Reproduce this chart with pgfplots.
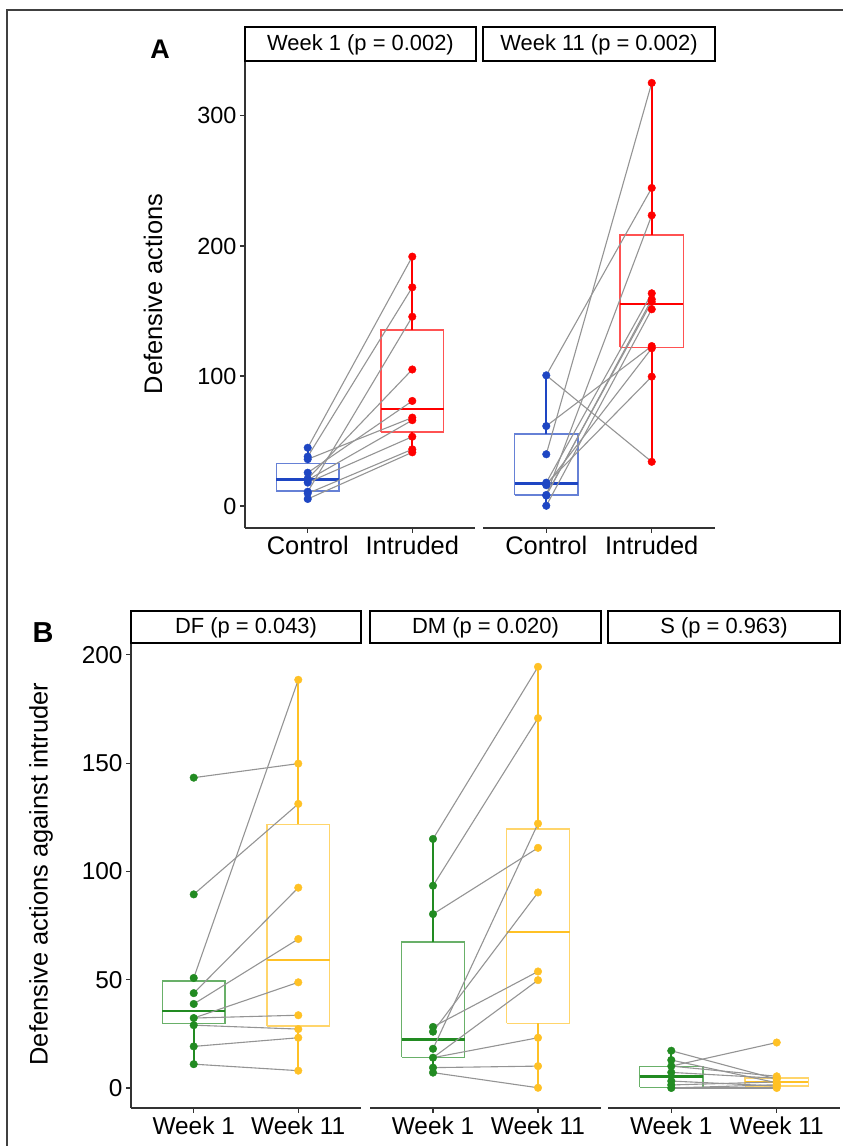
\documentclass[border=0pt]{standalone}
\usepackage{fontspec}
\setmainfont{Liberation Sans}
\usepackage{pgfplots}
\pgfplotsset{compat=1.18}
\definecolor{cblue}{RGB}{30,70,195}
\definecolor{cred}{RGB}{255,0,0}
\definecolor{cgreen}{RGB}{34,139,34}
\definecolor{cgold}{RGB}{255,193,37}
\definecolor{axgray}{RGB}{51,51,51}
\pgfplotsset{
  base/.style={scale only axis, clip=false, xmin=0.4, xmax=2.6, xtick={1,2},
    tick align=outside, major tick length=5bp,
    tick style={axgray, line width=1.1bp},
    axis line style={axgray, line width=1.4bp},
    ticklabel style={font=\fontsize{24.5}{28}\selectfont},
    /pgf/number format/assume math mode=true,
    anchor=south west},
  first/.style={axis x line*=bottom, axis y line*=left},
  other/.style={axis x line*=bottom, axis y line=none},
  pair/.style={black!42, line width=1.1bp},
  pts/.style={only marks, mark=*, mark size=3.8bp, mark options={draw=#1, fill=#1}},
}
% box: color, left, centre, right, lower whisker, q1, median, q3, upper whisker
\newcommand{\bx}[9]{%
  \addplot[#1, line width=2bp] coordinates {(#3,#5) (#3,#6)};
  \addplot[#1, line width=2bp] coordinates {(#3,#8) (#3,#9)};
  \addplot[#1, draw opacity=0.68, line width=1.6bp] coordinates {(#2,#6) (#4,#6) (#4,#8) (#2,#8) (#2,#6)};
  \addplot[#1, line width=2.5bp] coordinates {(#2,#7) (#4,#7)};
}
\newcommand{\strip}[5]{%
  \draw[black, line width=1.3bp, fill=white] (#1,#3) rectangle (#2,#4);
  \draw[black, line width=2.6bp] (#1,#3) -- (#2,#3);
  \draw[black, line width=2.4bp] (#2,#3) -- (#2,#4);
  \node[font=\fontsize{22}{24}\selectfont, inner sep=0] at ({(#1+#2)/2},{(#3+#4)/2-1}) {#5};}
\begin{document}
\begin{tikzpicture}
\begin{scope}[x=1bp,y=1bp]
\useasboundingbox (0,0) rectangle (843,1146);
\draw[black!75, line width=1.2bp] (7,0) -- (7,1136) -- (843,1136);
\end{scope}
% ---------------- Panel A, Week 1
\begin{axis}[base, first, at={(245bp,618bp)}, width=230bp, height=466bp,
  ymin=-16.9, ymax=341.5, ytick={0,100,200,300}, xticklabels={Control,Intruded},
  xticklabel style={font=\fontsize{25.5}{28}\selectfont},
  yticklabel style={font=\fontsize{23.5}{28}\selectfont}]
\bx{cblue}{0.7}{1}{1.3}{5.4}{11.5}{20.5}{32.8}{44.8}
\bx{cred}{1.7}{2}{2.3}{41.3}{56.7}{74.6}{135.4}{191.8}
\addplot[pair] coordinates {(1,44.8) (2,191.8)};
\addplot[pair] coordinates {(1,38) (2,168.2)};
\addplot[pair] coordinates {(1,36) (2,68)};
\addplot[pair] coordinates {(1,25.6) (2,80.8)};
\addplot[pair] coordinates {(1,21) (2,105)};
\addplot[pair] coordinates {(1,20) (2,66)};
\addplot[pair] coordinates {(1,18) (2,53.3)};
\addplot[pair] coordinates {(1,11) (2,145.6)};
\addplot[pair] coordinates {(1,9.7) (2,43.6)};
\addplot[pair] coordinates {(1,5.4) (2,41.3)};
\addplot[pts=cblue] coordinates {(1,44.8) (1,38) (1,36) (1,25.6) (1,21) (1,20) (1,18) (1,11) (1,9.7) (1,5.4)};
\addplot[pts=cred] coordinates {(2,191.8) (2,168.2) (2,145.6) (2,105) (2,80.8) (2,68) (2,66) (2,53.3) (2,43.6) (2,41.3)};
\end{axis}
% ---------------- Panel A, Week 11
\begin{axis}[base, other, at={(483bp,618bp)}, width=232bp, height=466bp,
  ymin=-16.9, ymax=341.5, xticklabels={Control,Intruded},
  xticklabel style={font=\fontsize{25.5}{28}\selectfont}]
\bx{cblue}{0.7}{1}{1.3}{0.2}{8.5}{17.4}{55.4}{100.5}
\bx{cred}{1.7}{2}{2.3}{34}{122}{155.2}{208.5}{325.4}
\addplot[pair] coordinates {(1,100.5) (2,244.6)};
\addplot[pair] coordinates {(1,100.5) (2,34)};
\addplot[pair] coordinates {(1,61.5) (2,123)};
\addplot[pair] coordinates {(1,39.8) (2,325.4)};
\addplot[pair] coordinates {(1,18) (2,163.6)};
\addplot[pair] coordinates {(1,17) (2,99.5)};
\addplot[pair] coordinates {(1,16) (2,121.3)};
\addplot[pair] coordinates {(1,8.5) (2,223.6)};
\addplot[pair] coordinates {(1,8.5) (2,157)};
\addplot[pair] coordinates {(1,8) (2,159)};
\addplot[pair] coordinates {(1,0.2) (2,151.3)};
\addplot[pts=cblue] coordinates {(1,100.5) (1,61.5) (1,39.8) (1,18) (1,17) (1,16) (1,8.5) (1,8) (1,0.2)};
\addplot[pts=cred] coordinates {(2,325.4) (2,244.6) (2,223.6) (2,163.6) (2,159) (2,157) (2,151.3) (2,123) (2,121.3) (2,99.5) (2,34)};
\end{axis}
% ---------------- Panel B, DF
\begin{axis}[base, first, at={(131bp,38bp)}, width=230bp, height=465bp,
  ymin=-9.24, ymax=205.5, ytick={0,50,100,150,200}, xticklabels={Week 1,Week 11}]
\bx{cgreen}{0.7}{1}{1.3}{11}{29.8}{35.6}{49.3}{50.8}
\bx{cgold}{1.7}{2}{2.3}{8}{28.7}{59}{121.7}{188.5}
\addplot[pair] coordinates {(1,143.3) (2,149.8)};
\addplot[pair] coordinates {(1,89.4) (2,131.2)};
\addplot[pair] coordinates {(1,50.8) (2,188.5)};
\addplot[pair] coordinates {(1,43.8) (2,92.5)};
\addplot[pair] coordinates {(1,38.8) (2,68.8)};
\addplot[pair] coordinates {(1,32.3) (2,48.8)};
\addplot[pair] coordinates {(1,32.3) (2,33.6)};
\addplot[pair] coordinates {(1,29) (2,27.2)};
\addplot[pair] coordinates {(1,19.2) (2,23.2)};
\addplot[pair] coordinates {(1,11) (2,8)};
\addplot[pts=cgreen] coordinates {(1,143.3) (1,89.4) (1,50.8) (1,43.8) (1,38.8) (1,32.3) (1,29) (1,19.2) (1,11)};
\addplot[pts=cgold] coordinates {(2,188.5) (2,149.8) (2,131.2) (2,92.5) (2,68.8) (2,48.8) (2,33.6) (2,27.2) (2,23.2) (2,8)};
\end{axis}
% ---------------- Panel B, DM
\begin{axis}[base, other, at={(370bp,38bp)}, width=231bp, height=465bp,
  ymin=-9.24, ymax=205.5, xticklabels={Week 1,Week 11}]
\bx{cgreen}{0.7}{1}{1.3}{7.1}{14.1}{22.4}{67.3}{115}
\bx{cgold}{1.7}{2}{2.3}{0.1}{29.8}{72}{119.5}{194.5}
\addplot[pair] coordinates {(1,115) (2,194.5)};
\addplot[pair] coordinates {(1,93.4) (2,170.8)};
\addplot[pair] coordinates {(1,80.3) (2,110.9)};
\addplot[pair] coordinates {(1,28.2) (2,53.8)};
\addplot[pair] coordinates {(1,26) (2,90.3)};
\addplot[pair] coordinates {(1,18.1) (2,122.1)};
\addplot[pair] coordinates {(1,14) (2,49.8)};
\addplot[pair] coordinates {(1,14) (2,23.2)};
\addplot[pair] coordinates {(1,9.4) (2,10.1)};
\addplot[pair] coordinates {(1,7.1) (2,0.1)};
\addplot[pts=cgreen] coordinates {(1,115) (1,93.4) (1,80.3) (1,28.2) (1,26) (1,18.1) (1,14) (1,9.4) (1,7.1)};
\addplot[pts=cgold] coordinates {(2,194.5) (2,170.8) (2,122.1) (2,110.9) (2,90.3) (2,53.8) (2,49.8) (2,23.2) (2,10.1) (2,0.1)};
\end{axis}
% ---------------- Panel B, S
\begin{axis}[base, other, at={(608bp,38bp)}, width=232bp, height=465bp,
  ymin=-9.24, ymax=205.5, xticklabels={Week 1,Week 11}]
\bx{cgreen}{0.7}{1}{1.3}{0}{0.3}{5.2}{10}{17.2}
\bx{cgold}{1.7}{2}{2.3}{0}{0.8}{2.8}{4.5}{5.4}
\addplot[pair] coordinates {(1,17.2) (2,4.1)};
\addplot[pair] coordinates {(1,12.9) (2,2.4)};
\addplot[pair] coordinates {(1,10.1) (2,21)};
\addplot[pair] coordinates {(1,10.1) (2,5.4)};
\addplot[pair] coordinates {(1,7.2) (2,4.5)};
\addplot[pair] coordinates {(1,3.2) (2,0.9)};
\addplot[pair] coordinates {(1,1.4) (2,2.8)};
\addplot[pair] coordinates {(1,0) (2,0)};
\addplot[pair] coordinates {(1,0) (2,1.5)};
\addplot[pair] coordinates {(1,0) (2,0)};
\addplot[pts=cgreen] coordinates {(1,17.2) (1,12.9) (1,10.1) (1,7.2) (1,3.2) (1,1.4) (1,0)};
\addplot[pts=cgold] coordinates {(2,21) (2,5.4) (2,4.5) (2,4.1) (2,2.8) (2,2.4) (2,1.5) (2,0.9) (2,0)};
\end{axis}
% strips and labels
\begin{scope}[x=1bp,y=1bp]
\strip{245}{476}{1085}{1119}{Week 1 (p = 0.002)}
\strip{483}{715}{1085}{1119}{Week 11 (p = 0.002)}
\strip{131}{361}{503}{535}{DF (p = 0.043)}
\strip{370}{601}{503}{535}{DM (p = 0.020)}
\strip{608}{840}{503}{535}{S (p = 0.963)}
\node[font=\fontsize{27}{30}\selectfont\bfseries, anchor=base, inner sep=0] at (160,1087) {A};
\node[font=\fontsize{29}{32}\selectfont\bfseries, anchor=base, inner sep=0] at (43,503) {B};
\node[rotate=90, font=\fontsize{25.5}{30}\selectfont] at (153,852) {Defensive actions};
\node[rotate=90, font=\fontsize{25.5}{30}\selectfont] at (41,272) {Defensive actions against intruder};
\end{scope}
\end{tikzpicture}
\end{document}
